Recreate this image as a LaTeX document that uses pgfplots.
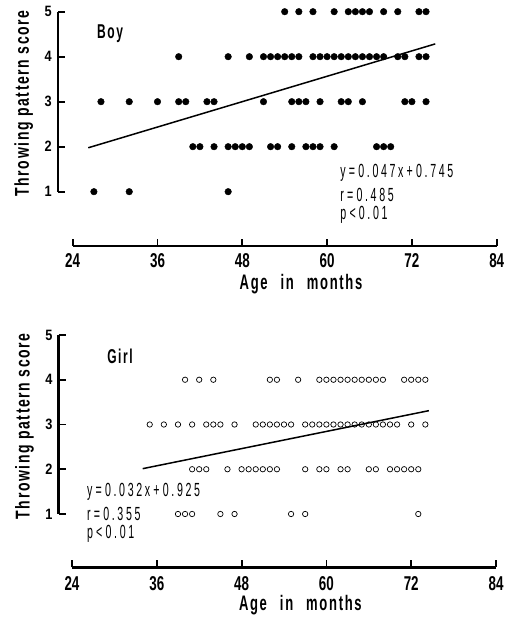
\documentclass[border=0pt]{standalone}
\usepackage{pgfplots}
\pgfplotsset{compat=1.18}
\usepackage{fontspec}
\setmainfont{Liberation Sans}
\newfontfamily\labfont{Liberation Sans}[FakeStretch=0.7,LetterSpace=8]
\newfontfamily\xlabfont{Liberation Sans}[FakeStretch=0.62,LetterSpace=8]
\newfontfamily\namefont{Liberation Sans}[FakeStretch=0.6,LetterSpace=8]
\newfontfamily\tickfont{Liberation Sans}[FakeStretch=0.67]
\newfontfamily\eqfont{Liberation Sans}[FakeStretch=0.56,LetterSpace=14]
\newfontfamily\yfont{Liberation Sans}[FakeStretch=0.85]

\tikzset{eqtext/.style={anchor=west, inner sep=0pt, font=\eqfont\fontsize{19}{19}\selectfont}}
\pgfplotsset{
  panel/.style={
    scale only axis, clip=false,
    axis x line=none, xtick=\empty,
    axis y line*=left,
    ymin=1, ymax=5, ytick={1,2,3,4,5},
    tick align=inside, major tick length=7pt,
    every tick/.style={black, line width=1.8pt},
    axis line style={line width=2.6pt, black},
    /pgf/number format/assume math mode=true,
    y tick label style={font=\yfont\bfseries\fontsize{15}{15}\selectfont, inner sep=0pt, xshift=-6pt},
    ylabel={Throwing pattern score},
    ylabel style={at={(axis description cs:-0.078,0.49)}, anchor=center,
      font=\labfont\bfseries\fontsize{20}{20}\selectfont},
  },
  xpanel/.style={
    scale only axis, width=424pt, height=10pt,
    xmin=24, xmax=84, ymin=0, ymax=1,
    axis y line=none, axis x line*=bottom,
    xtick={24,36,48,60,72,84},
    tick align=inside, major tick length=7pt,
    every tick/.style={black, line width=1.8pt},
    axis line style={line width=2.6pt, black},
    /pgf/number format/assume math mode=true,
    x tick label style={font=\tickfont\bfseries\fontsize{20}{20}\selectfont, inner sep=0pt},
    xlabel={Age\hspace{13pt}in\hspace{13pt}months},
    xlabel style={at={(axis description cs:0.5385,0)}, anchor=center, yshift=-38pt,
      font=\xlabfont\bfseries\fontsize{21}{21}\selectfont},
  },
}

\begin{document}
\begin{tikzpicture}
\useasboundingbox (0pt,0pt) rectangle (510pt,620pt);

% ---------------- Boy ----------------
\begin{axis}[panel, at={(58pt,428.3pt)}, anchor=south west,
  width=438.7pt, height=180pt, xmin=21.92, xmax=84]
\addplot[only marks, mark=*, mark size=3.3pt, black, mark options={fill=black}] coordinates {
(27,1) (32,1) (46,1)
(41,2) (42,2) (44,2) (46,2) (47,2) (48,2) (49,2) (52,2) (53,2) (55,2) (57,2) (58,2) (59,2) (61,2) (67,2) (68,2) (69,2)
(28,3) (32,3) (36,3) (39,3) (40,3) (43,3) (44,3) (51,3) (55,3) (56,3) (57,3) (59,3) (62,3) (63,3) (65,3) (71,3) (72,3) (74,3)
(39,4) (46,4) (49,4) (51,4) (52,4) (53,4) (54,4) (55,4) (56,4) (58,4) (59,4) (60,4) (61,4) (62,4) (63,4) (64,4) (65,4) (66,4) (67,4) (68,4) (70,4) (71,4) (73,4) (74,4)
(54,5) (56,5) (58,5) (61,5) (63,5) (64,5) (65,5) (66,5) (68,5) (70,5) (73,5) (74,5)
};
\addplot[black, line width=1.5pt] coordinates {(26.2,1.976) (75.3,4.284)};
\node[font=\namefont\bfseries\fontsize{20}{20}\selectfont] at (axis cs:29.3,4.52) {Boy};
\node[eqtext] at (axis cs:61.86,1.415) {y\,=\,0.047x\,+\,0.745};
\node[eqtext] at (axis cs:61.86,0.922) {r\,=\,0.485};
\node[eqtext] at (axis cs:61.86,0.478) {p\,<\,0.01};
\end{axis}

\begin{axis}[xpanel, at={(72.7pt,374pt)}, anchor=south west,
  x tick label style={yshift=-7pt}]
\end{axis}

% ---------------- Girl ----------------
\begin{axis}[panel, at={(58.7pt,106pt)}, anchor=south west,
  width=437.3pt, height=179pt, xmin=22.12, xmax=84]
\addplot[only marks, mark=o, mark size=2.7pt, black, mark options={line width=0.7pt}] coordinates {
(39,1) (40,1) (41,1) (45,1) (47,1) (55,1) (57,1) (73,1)
(41,2) (42,2) (43,2) (46,2) (48,2) (49,2) (50,2) (51,2) (52,2) (53,2) (57,2) (59,2) (60,2) (62,2) (63,2) (66,2) (67,2) (69,2) (70,2) (71,2) (72,2) (73,2)
(35,3) (37,3) (39,3) (41,3) (43,3) (44,3) (45,3) (47,3) (50,3) (51,3) (52,3) (53,3) (54,3) (55,3)
(57,3) (58,3) (59,3) (60,3) (61,3) (62,3) (63,3) (64,3) (65,3) (66,3) (67,3) (68,3) (69,3) (70,3) (72,3) (74,3)
(40,4) (42,4) (44,4) (52,4) (53,4) (56,4) (59,4) (60,4) (61,4) (62,4) (63,4) (64,4) (65,4) (66,4) (67,4) (68,4) (71,4) (72,4) (73,4) (74,4)
};
\addplot[black, line width=1.5pt] coordinates {(34,2.013) (74.5,3.309)};
\node[font=\namefont\bfseries\fontsize{20}{20}\selectfont] at (axis cs:30.8,4.53) {Girl};
\node[eqtext] at (axis cs:26.12,1.49) {y\,=\,0.032x\,+\,0.925};
\node[eqtext] at (axis cs:26.12,1.0) {r\,=\,0.355};
\node[eqtext] at (axis cs:26.12,0.553) {p\,<\,0.01};
\end{axis}

\begin{axis}[xpanel, at={(72pt,52.7pt)}, anchor=south west,
  x tick label style={yshift=-9pt}]
\end{axis}
\end{tikzpicture}
\end{document}
